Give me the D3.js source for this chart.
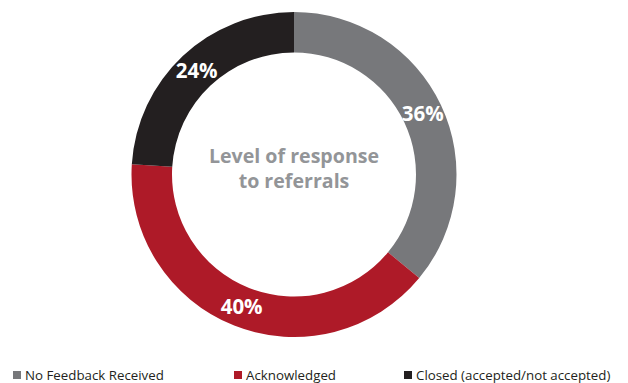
<!DOCTYPE html>
<html>
<head>
<meta charset="utf-8">
<script src="https://cdn.jsdelivr.net/npm/d3@7"></script>
<style>
  html, body { margin: 0; padding: 0; background: #ffffff; }
  svg { display: block; }
  text { font-family: "Open Sans", "Noto Sans", sans-serif; }
</style>
</head>
<body>
<svg id="chart" width="628" height="383"></svg>
<script>
const categories = ["No Feedback Received", "Acknowledged", "Closed (accepted/not accepted)"];
const values = [36, 40, 24];
const colors = ["#77787b", "#ae1a28", "#231f20"];
const centerTitle = ["Level of response", "to referrals"];

const svg = d3.select("#chart");
const cx = 294, cy = 174.5, outerR = 162.5, innerR = 122;

const pie = d3.pie().sort(null).value(d => d.value);
const data = categories.map((c, i) => ({ name: c, value: values[i], color: colors[i] }));
const arcs = pie(data);
const arc = d3.arc().innerRadius(innerR).outerRadius(outerR);

const g = svg.append("g").attr("transform", `translate(${cx},${cy})`);
g.selectAll("path.slice").data(arcs).join("path")
  .attr("class", "slice")
  .attr("d", arc)
  .attr("fill", d => d.data.color);

g.selectAll("text.pct").data(arcs).join("text")
  .attr("class", "pct")
  .attr("transform", d => { const [x, y] = arc.centroid(d); return `translate(${x},${y})`; })
  .attr("text-anchor", "middle")
  .attr("dy", "0.36em")
  .attr("fill", "#ffffff")
  .attr("font-size", 20.5)
  .attr("font-weight", 700)
  .text(d => d.data.value + "%");

g.selectAll("text.title").data(centerTitle).join("text")
  .attr("class", "title")
  .attr("x", 0)
  .attr("y", (d, i) => -11.5 + i * 25)
  .attr("text-anchor", "middle")
  .attr("fill", "#939598")
  .attr("font-size", 19.6)
  .attr("font-weight", 700)
  .text(d => d);

const legendX = [13, 234, 404];
const leg = svg.append("g").selectAll("g").data(data).join("g")
  .attr("transform", (d, i) => `translate(${legendX[i]},371)`);
leg.append("rect").attr("width", 8).attr("height", 8).attr("fill", d => d.color);
leg.append("text").attr("x", 12).attr("y", 9)
  .attr("font-size", 13.3).attr("fill", "#231f20")
  .text(d => d.name);
</script>
</body>
</html>
